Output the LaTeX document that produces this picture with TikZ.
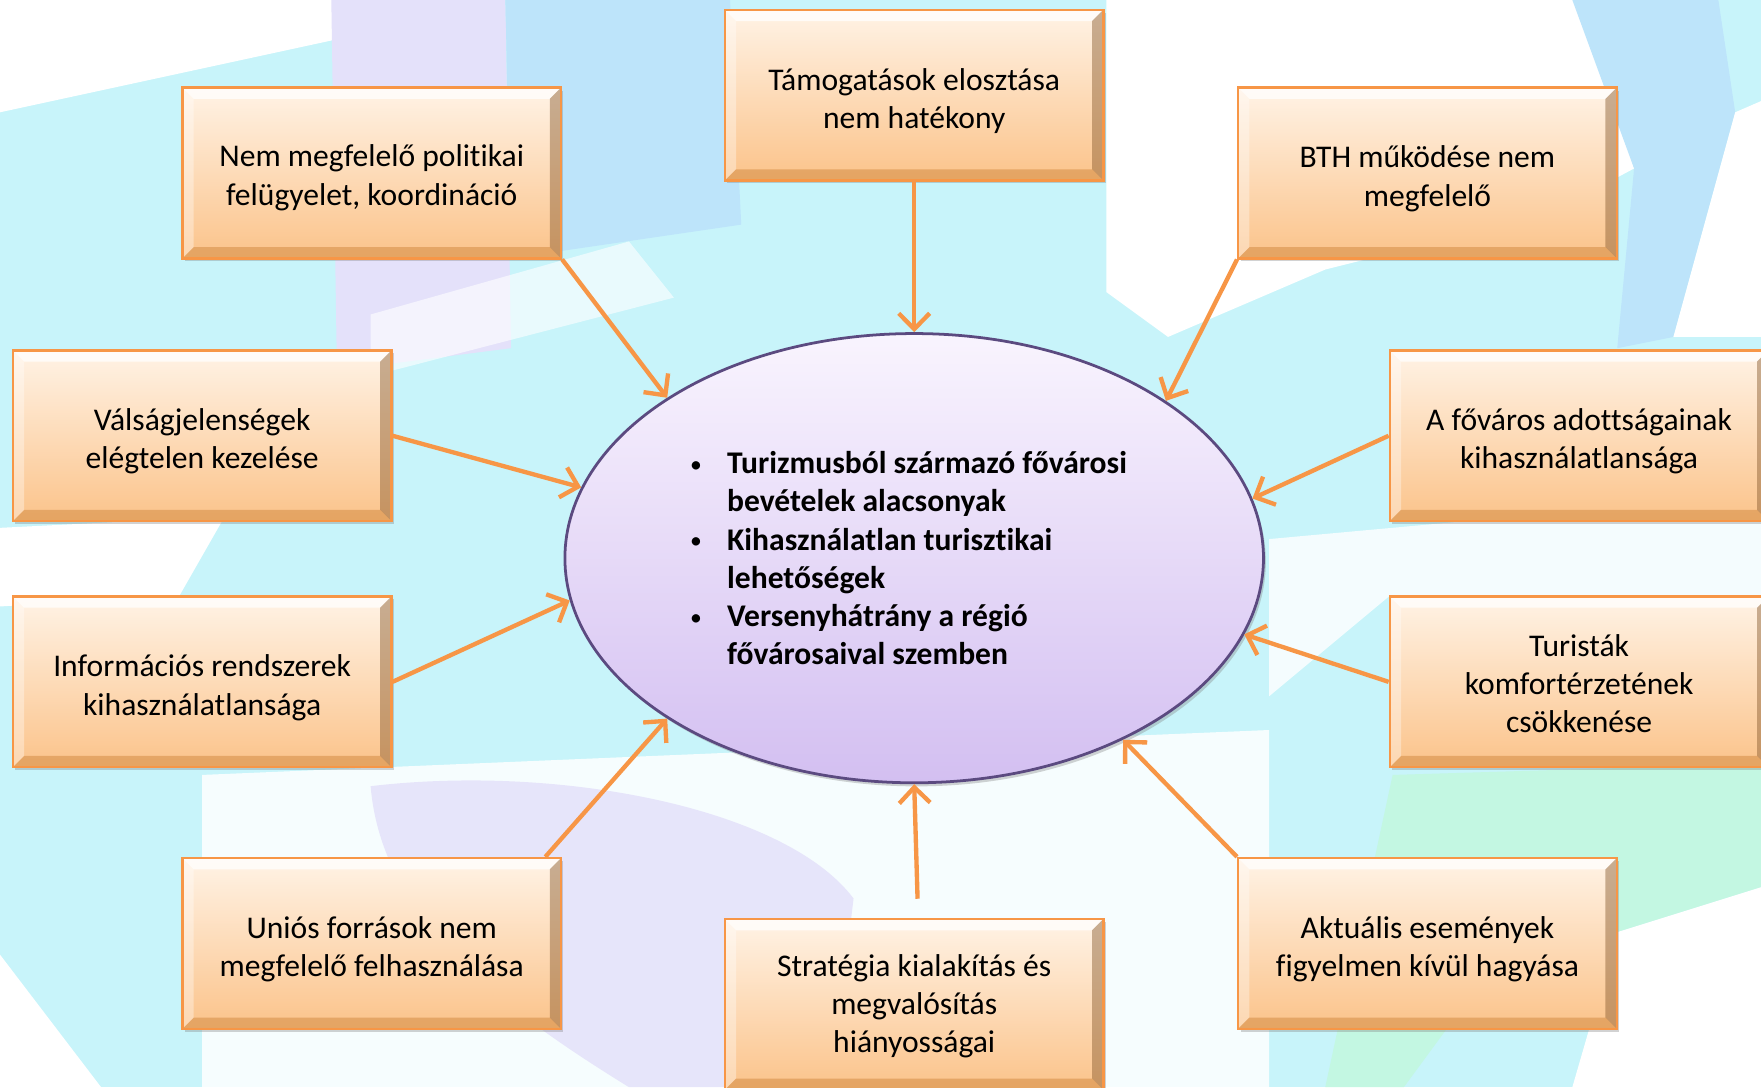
\documentclass[tikz,border=0pt]{standalone}
\usepackage{fontspec}
\setmainfont{Carlito}[Ligatures={NoCommon,NoContextual}]
\usepackage{tikz}
\usetikzlibrary{arrows.meta,positioning,shapes.geometric,shadows}

\definecolor{causeline}{HTML}{F79646}
\definecolor{causetop}{HTML}{FFF3E6}
\definecolor{causebot}{HTML}{FBC38A}
\definecolor{coretop}{HTML}{F9F4FE}
\definecolor{corebot}{HTML}{D3BFF1}
\definecolor{coreline}{HTML}{5B4A80}
\definecolor{skycyan}{HTML}{C8F4FA}
\definecolor{ribbonlav}{HTML}{E4E1FA}
\definecolor{ribbonblue}{HTML}{BDE4FA}
\definecolor{ribbonmint}{HTML}{C3F7E2}

% bevel of the cause boxes
\newcommand\causebevel{%
  \fill[white,opacity=.75] (path picture bounding box.north west) -- (path picture bounding box.north east)
    -- ([shift={(-2mm,-2mm)}]path picture bounding box.north east) -- ([shift={(2mm,-2mm)}]path picture bounding box.north west) -- cycle;
  \fill[white,opacity=.35] (path picture bounding box.north west) -- ([shift={(2mm,-2mm)}]path picture bounding box.north west)
    -- ([shift={(2mm,2mm)}]path picture bounding box.south west) -- (path picture bounding box.south west) -- cycle;
  \fill[brown!70!black,opacity=.45] (path picture bounding box.north east) -- (path picture bounding box.south east)
    -- ([shift={(-2mm,2mm)}]path picture bounding box.south east) -- ([shift={(-2mm,-2mm)}]path picture bounding box.north east) -- cycle;
  \fill[brown!80!orange,opacity=.45] (path picture bounding box.south west) -- (path picture bounding box.south east)
    -- ([shift={(-2mm,2mm)}]path picture bounding box.south east) -- ([shift={(2mm,2mm)}]path picture bounding box.south west) -- cycle;
}
\newcommand\corebullet{\makebox[6.6mm][l]{\mdseries\fontsize{12}{12}\selectfont\raisebox{.6pt}{\textbullet}}}
\newcommand\lead[1][17pt]{\rule{0pt}{#1}}

\begin{document}
\begin{tikzpicture}[
  x=0.2mm, y=-0.2mm,
  node distance=13mm and 29mm,
  cause/.style={rectangle, draw=causeline, line width=1.2pt, top color=causetop, bottom color=causebot,
                minimum width=67.4mm, minimum height=30.4mm, align=center,
                font=\fontsize{16}{19.4}\selectfont, path picture={\causebevel},
                drop shadow={shadow xshift=1.2pt, shadow yshift=-1.5pt, opacity=.35}},
  core/.style={ellipse, draw=coreline, line width=1.4pt, top color=coretop, bottom color=corebot,
               minimum width=124.4mm, minimum height=80mm, inner sep=0pt, align=left,
               font=\bfseries\fontsize{16}{19.4}\selectfont,
               drop shadow={shadow xshift=1.2pt, shadow yshift=-1.8pt, opacity=.35}},
  arrow/.style={-{Straight Barb[length=2.8mm,width=5.5mm]}, draw=causeline, line width=2.2pt},
]
  \useasboundingbox (0,0) rectangle (1568,968);

  % background ribbons
  \fill[skycyan] (0,0) rectangle (1568,968);
  \fill[white] (0,0) -- (300,0) -- (300,35) -- (0,100) -- cycle;
  \fill[ribbonlav] (295,0) -- (450,0) -- (455,310) -- (300,330) -- cycle;
  \fill[ribbonblue] (450,0) -- (650,0) -- (660,200) -- (455,230) -- cycle;
  \fill[white, opacity=.6] (330,280) -- (560,215) -- (600,265) -- (330,335) -- cycle;
  \fill[white] (985,0) -- (1405,0) -- (1455,150) -- (1380,190) -- (1180,240) -- (1040,300) -- (985,260) -- cycle;
  \fill[ribbonblue] (1400,0) -- (1530,0) -- (1545,100) -- (1490,300) -- (1440,310) -- (1455,150) -- cycle;
  \fill[white] (1545,100) -- (1568,90) -- (1568,300) -- (1490,300) -- cycle;
  \fill[white, opacity=.8] (1130,480) -- (1568,440) -- (1568,530) -- (1238,530) -- (1130,620) -- cycle;
  \fill[white] (0,470) -- (200,460) -- (160,530) -- (0,540) -- cycle;
  \fill[white, opacity=.85] (180,690) -- (1130,650) -- (1130,968) -- (180,968) -- cycle;
  \fill[ribbonlav, opacity=.85] (330,700) .. controls (500,680) and (700,720) .. (760,800) -- (740,968) -- (560,968)
    .. controls (450,900) and (340,820) .. (330,700) -- cycle;
  \fill[white] (0,850) -- (90,968) -- (0,968) -- cycle;
  \fill[ribbonmint] (1240,690) -- (1568,680) -- (1568,790) -- (1440,830) -- (1300,900) -- (1250,968) -- (1180,968) -- cycle;
  \fill[white] (1440,830) -- (1568,790) -- (1568,968) -- (1400,968) -- cycle;

  % centre
  \node[core] (core) at (814,497) {%
    \corebullet Turizmusból származó fővárosi\hspace*{2mm}\\
    \hspace*{6.6mm}bevételek alacsonyak\\
    \corebullet Kihasználatlan turisztikai\\
    \hspace*{6.6mm}lehetőségek\\
    \corebullet Versenyhátrány a régió\\
    \hspace*{6.6mm}fővárosaival szemben};

  % causes
  \node[cause, above=26.8mm of core] (funds) {\lead Támogatások elosztása\\nem hatékony};
  \node[cause, below=23.8mm of core] (strategy) {\lead[13pt]Stratégia kialakítás és\\megvalósítás\\hiányosságai};
  \node[cause] (politics) at (331,154) {\lead[16pt]Nem megfelelő politikai\\felügyelet, koordináció};
  \node[cause] (bth) at (1271,154) {\lead BTH működése nem\\megfelelő};
  \node[cause] (crisis) at (180,388) {\lead Válságjelenségek\\elégtelen kezelése};
  \node[cause, below=of crisis] (infosys) {\lead Információs rendszerek\\kihasználatlansága};
  \node[cause] (assets) at (1406,388) {\lead A főváros adottságainak\\kihasználatlansága};
  \node[cause, below=of assets] (comfort) {\lead[13pt]Turisták\\komfortérzetének\\csökkenése};
  \node[cause] (eufunds) at (331,840) {\lead Uniós források nem\\megfelelő felhasználása};
  \node[cause] (events) at (1271,840) {\lead Aktuális események\\figyelmen kívül hagyása};

  % arrows
  \draw[arrow] (funds.south) -- (core.north);
  \draw[arrow] (politics.south east) -- (core.147);
  \draw[arrow] (bth.south west) -- (core.32);
  \draw[arrow] (crisis.east) -- (core.168);
  \draw[arrow] (assets.west) -- (core.10);
  \draw[arrow] (infosys.east) -- (core.187);
  \draw[arrow] (comfort.west) -- (core.-13);
  \draw[arrow] ([xshift=-3mm]eufunds.north east) -- (core.213);
  \draw[arrow] ([xshift=0.6mm,yshift=3.4mm]strategy.north) -- (core.south);
  \draw[arrow] (events.north west) -- (core.-41);
\end{tikzpicture}
\end{document}
